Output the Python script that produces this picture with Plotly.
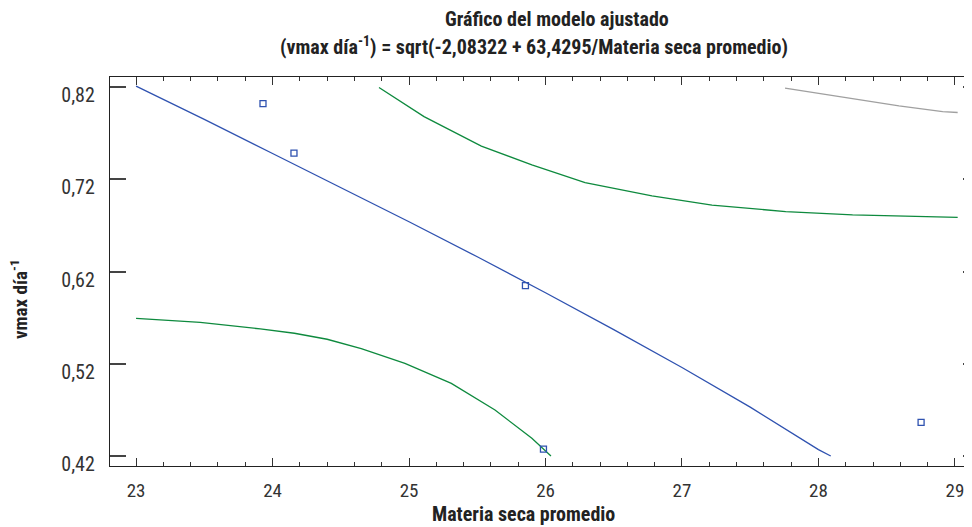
import plotly.graph_objects as go

# Fitted line
fit_x = [23.0, 23.5, 24.0, 24.5, 25.0, 25.5, 26.0, 26.5, 27.0, 27.5, 28.0, 28.09]
fit_y = [0.821, 0.785, 0.748, 0.711, 0.674, 0.636, 0.597, 0.557, 0.516, 0.473, 0.427, 0.420]

# Upper green limit
up_x = [24.78, 25.11, 25.53, 25.90, 26.29, 26.78, 27.22, 27.76, 28.25, 28.74, 29.02]
up_y = [0.8195, 0.788, 0.756, 0.7356, 0.7164, 0.702, 0.692, 0.685, 0.6814, 0.6795, 0.6788]

# Lower green limit
lo_x = [23.0, 23.18, 23.47, 23.91, 24.16, 24.40, 24.65, 24.97, 25.31, 25.63, 25.90, 26.04]
lo_y = [0.5693, 0.5675, 0.565, 0.5578, 0.5531, 0.5466, 0.5364, 0.5205, 0.4988, 0.4699, 0.4392, 0.420]

# Gray limit
gr_x = [27.755, 28.25, 28.59, 28.91, 29.02]
gr_y = [0.8188, 0.8078, 0.7996, 0.7934, 0.7924]

# Observations
obs_x = [23.93, 24.157, 25.853, 25.985, 28.752]
obs_y = [0.802, 0.7483, 0.6047, 0.4276, 0.4565]

x_ticks = [23, 24, 25, 26, 27, 28, 29]
y_ticks = [0.42, 0.52, 0.62, 0.72, 0.82]

title1 = "Gráfico del modelo ajustado"
title2 = "(vmax día<sup>-1</sup>) = sqrt(-2,08322 + 63,4295/Materia seca promedio)"
x_title = "Materia seca promedio"
y_title = "vmax día<sup>-1</sup>"

FONT = "Roboto Condensed, Noto Sans Condensed, Liberation Sans Narrow, Roboto, sans-serif"
XR = [22.809, 29.125]
YR = [0.4092, 0.8309]

OFF = 8  # page body margin offset
W, H = 972 - OFF, 527 - OFF
ML, MR, MT, MB = 110 - OFF, 0, 77 - OFF, 61
PW, PH = W - ML - MR, H - MT - MB

def px_x(p):
    return (p - OFF - ML) / PW

def px_y(p):
    return (H - MB - (p - OFF)) / PH

fig = go.Figure()
fig.add_trace(go.Scatter(x=fit_x, y=fit_y, mode="lines", line=dict(color="#2f52b0", width=1.3), showlegend=False))
fig.add_trace(go.Scatter(x=up_x, y=up_y, mode="lines", line=dict(color="#0e8a3e", width=1.3), showlegend=False))
fig.add_trace(go.Scatter(x=lo_x, y=lo_y, mode="lines", line=dict(color="#0e8a3e", width=1.3), showlegend=False))
fig.add_trace(go.Scatter(x=gr_x, y=gr_y, mode="lines", line=dict(color="#a0a0a0", width=1.3), showlegend=False))
fig.add_trace(go.Scatter(x=obs_x, y=obs_y, mode="markers",
                         marker=dict(symbol="square-open", size=6, color="#2f52b0", line=dict(width=1.3)),
                         showlegend=False))
fig.add_trace(go.Scatter(x=[None], y=[None], yaxis="y2", showlegend=False))

fig.update_layout(
    width=W, height=H,
    margin=dict(l=ML, r=MR, t=MT, b=MB, autoexpand=False),
    paper_bgcolor="white", plot_bgcolor="white",
    separators=",.",
    font=dict(family=FONT, color="#333333"),
    xaxis=dict(range=XR, tickvals=x_ticks, ticks="inside", ticklen=8, tickwidth=1.2, automargin=False,
               tickcolor="#333", showline=True, linecolor="#222", linewidth=1.3, mirror="ticks",
               showgrid=False, zeroline=False, tickfont=dict(size=19, color="#333"),
               ticklabelstandoff=7,
               minor=dict(dtick=0.2, tick0=23, ticks="inside", ticklen=4, tickcolor="#333", tickwidth=1, showgrid=False)),
    yaxis=dict(range=YR, tickvals=y_ticks, tickformat=".2f", ticks="inside", ticklen=16, automargin=False,
               tickwidth=1.6, tickcolor="#444", showline=True, linecolor="#222", linewidth=1.3, mirror=False,
               showgrid=False, zeroline=False, tickfont=dict(size=20, color="#333"), ticklabelstandoff=10,
               ticklabelshift=8),
    yaxis2=dict(range=YR, overlaying="y", side="right", tickvals=y_ticks, ticks="inside", automargin=False,
                ticklen=9, tickwidth=1.6, tickcolor="#444", showticklabels=False, showline=False,
                showgrid=False, zeroline=False),
)

fig.add_annotation(text="<b>" + title1 + "</b>", xref="paper", yref="paper",
                   x=px_x(557), y=px_y(19), showarrow=False, font=dict(size=20, color="#222"),
                   xanchor="center", yanchor="middle")
fig.add_annotation(text="<b>" + title2 + "</b>", xref="paper", yref="paper",
                   x=px_x(534), y=px_y(46), showarrow=False, font=dict(size=20, color="#222"),
                   xanchor="center", yanchor="middle")
fig.add_annotation(text="<b>" + x_title + "</b>", xref="paper", yref="paper",
                   x=px_x(523), y=px_y(514), showarrow=False, font=dict(size=20, color="#222"),
                   xanchor="center", yanchor="middle")
fig.add_annotation(text="<b>" + y_title + "</b>", xref="paper", yref="paper",
                   x=px_x(19), y=px_y(300), showarrow=False, font=dict(size=19, color="#222"),
                   xanchor="center", yanchor="middle", textangle=-90)

fig.write_html("out.html")
